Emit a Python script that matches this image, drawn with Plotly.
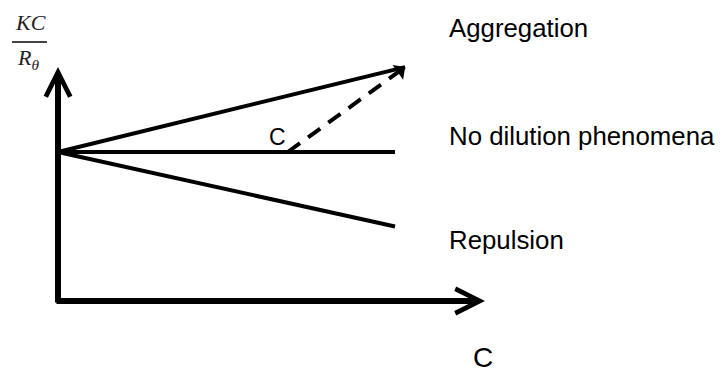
"""Static light-scattering schematic: KC/Rθ versus C, three dilution regimes."""
import plotly.graph_objects as go

# ---------------------------------------------------------------------------
# Data (schematic units: C along x, KC/Rθ along y)
# ---------------------------------------------------------------------------
AGG_C = [0.0, 10.3]
AGG_Y = [5.0, 7.85]
NODIL_C = [0.0, 10.0]
NODIL_Y = [5.0, 5.0]
REP_C = [0.0, 10.0]
REP_Y = [5.0, 2.5]
BRANCH_C = [6.82, 10.3]          # aggregation above a critical concentration
BRANCH_Y = [5.0, 7.85]

X_AXIS_END = 12.67
Y_AXIS_END = 7.85

REGIME_LABELS = ["Aggregation", "No dilution phenomena", "Repulsion"]

W, H = 723, 372
X_RANGE = [-58 / 33.7, (W - 58) / 33.7]
Y_RANGE = [(301 - H) / 29.8, 301 / 29.8]
FONT = "Liberation Sans, Arial, sans-serif"
SERIF = "Liberation Serif, Times New Roman, serif"


def px(x, y):
    """pixel position -> paper coordinates (for labels only)"""
    return x / W, 1 - y / H


def label(text, x, y, size, family=FONT, xanchor="center", color="black"):
    xp, yp = px(x, y)
    fig.add_annotation(x=xp, y=yp, xref="paper", yref="paper", text=text,
                       showarrow=False, xanchor=xanchor, yanchor="middle",
                       borderpad=0,
                       font=dict(family=family, size=size, color=color))


fig = go.Figure()

for cx, cy in [(AGG_C, AGG_Y), (NODIL_C, NODIL_Y), (REP_C, REP_Y)]:
    fig.add_trace(go.Scatter(x=cx, y=cy, mode="lines",
                             line=dict(color="black", width=4),
                             hoverinfo="skip", showlegend=False))

fig.add_trace(go.Scatter(x=BRANCH_C, y=BRANCH_Y, mode="lines",
                         line=dict(color="black", width=4, dash="15px,10px"),
                         hoverinfo="skip", showlegend=False))

# axes drawn as arrows
arrow = dict(xref="x", yref="y", axref="x", ayref="y", text="",
             showarrow=True, arrowhead=5, arrowsize=0.8, arrowwidth=6,
             arrowcolor="black", standoff=0, startstandoff=0)
fig.add_annotation(x=X_AXIS_END, y=0, ax=-0.09, ay=0, **arrow)
fig.add_annotation(x=0, y=Y_AXIS_END, ax=0, ay=-0.1, **arrow)

# small head on the dashed branch
fig.add_annotation(x=BRANCH_C[1], y=BRANCH_Y[1],
                   ax=BRANCH_C[1] - 0.34, ay=BRANCH_Y[1] - 0.28,
                   xref="x", yref="y", axref="x", ayref="y", text="",
                   showarrow=True, arrowhead=1, arrowsize=1, arrowwidth=3,
                   arrowcolor="black", standoff=0)

# regime labels
for text, py in zip(REGIME_LABELS, [28, 136, 240]):
    label(text, 448, py, 25.8, xanchor="left")

label("C", 277, 137, 23)
label("C", 483, 357, 28)

# y label: KC / Rθ as a fraction
label("<i>KC</i>", 30, 23, 22, family=SERIF, color="#222")
label("<i>R</i><sub><i>θ</i></sub>", 28, 59, 22, family=SERIF, color="#222")
x0, y0 = px(12, 42)
x1, _ = px(47, 42)
fig.add_shape(type="line", xref="paper", yref="paper", x0=x0, x1=x1, y0=y0, y1=y0,
              line=dict(color="#444", width=2))

fig.update_layout(
    width=W, height=H,
    margin=dict(l=0, r=0, t=0, b=0),
    plot_bgcolor="white", paper_bgcolor="white",
    showlegend=False,
)
fig.update_xaxes(range=X_RANGE, visible=False, fixedrange=True)
fig.update_yaxes(range=Y_RANGE, visible=False, fixedrange=True)

# page body has an 8px default margin; drop it so the figure sits at (0, 0)
fig.write_html("out.html", config={"displayModeBar": False},
               post_script="document.body.style.margin='0px';")
